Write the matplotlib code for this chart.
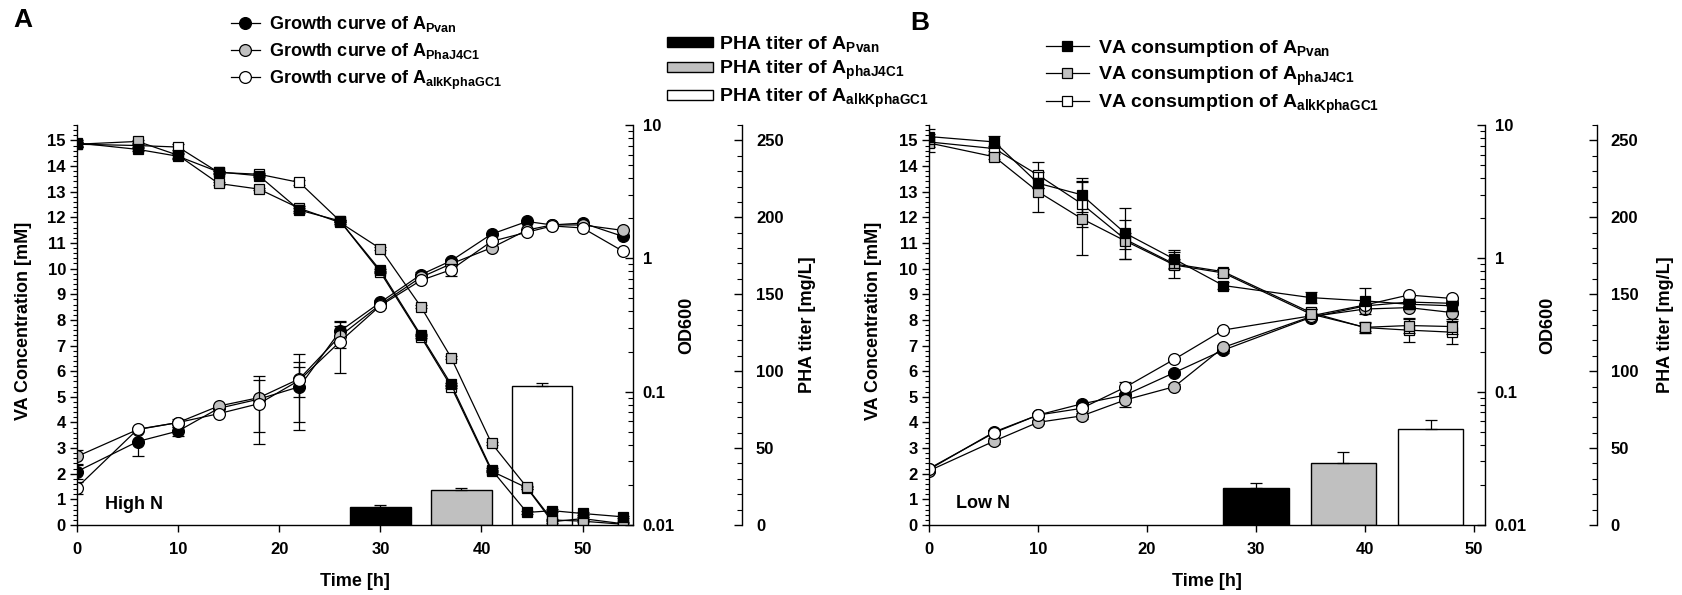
import numpy as np
import matplotlib
matplotlib.use('Agg')
import matplotlib.pyplot as plt
from matplotlib.ticker import MultipleLocator, FixedLocator, LogLocator, NullFormatter, FuncFormatter

plt.rcParams['font.family'] = ['Liberation Sans', 'DejaVu Sans']
plt.rcParams['font.weight'] = 'bold'
plt.rcParams['axes.labelweight'] = 'bold'
plt.rcParams['mathtext.fontset'] = 'custom'
plt.rcParams['mathtext.rm'] = 'Liberation Sans:bold'
plt.rcParams['mathtext.it'] = 'Liberation Sans:bold'
plt.rcParams['mathtext.bf'] = 'Liberation Sans:bold'

# ---- panel A (high N) ----
tA = [0, 6, 10, 14, 18, 22, 26, 30, 34, 37, 41, 44.5, 47, 50, 54]
va_A_pvan = [14.9, 14.65, 14.38, 13.77, 13.62, 12.28, 11.86, 9.93, 7.41, 5.49, 2.16, 0.49, 0.56, 0.45, 0.32]
va_A_phaJ = [14.85, 14.96, 14.42, 13.32, 13.1, 12.35, 11.8, 10.78, 8.52, 6.53, 3.19, 1.47, 0.2, 0.15, 0.03]
va_A_alkK = [14.85, 14.8, 14.74, 13.75, 13.68, 13.36, 11.86, 9.86, 7.35, 5.4, 2.1, 1.45, 0.13, 0.25, 0.05]
od_A_pvan = [0.0252, 0.0423, 0.0507, 0.075, 0.088, 0.109, 0.284, 0.468, 0.754, 0.959, 1.52, 1.89, 1.78, 1.84, 1.46]
od_A_phaJ = [0.0327, 0.052, 0.0587, 0.078, 0.0902, 0.125, 0.261, 0.45, 0.72, 0.91, 1.20, 1.63, 1.78, 1.78, 1.62]
od_A_alkK = [0.0191, 0.0523, 0.0587, 0.0684, 0.0813, 0.122, 0.237, 0.442, 0.683, 0.822, 1.34, 1.57, 1.75, 1.69, 1.13]
od_A_pvan_err = [0.003, 0.0096, 0.004, 0, 0, 0.057, 0.05, 0.02, 0.03, 0.03, 0, 0, 0, 0, 0]
od_A_phaJ_err = [0.004, 0, 0, 0, 0.04, 0.066, 0.05, 0, 0, 0, 0, 0, 0, 0, 0]
od_A_alkK_err = [0.002, 0, 0.004, 0, 0.041, 0.03, 0.1, 0.02, 0, 0.08, 0, 0, 0, 0, 0]
va_A_err = [0.1, 0.05, 0.1, 0.05, 0.05, 0.1, 0.05, 0.05, 0.05, 0.05, 0.05, 0.05, 0.05, 0.05, 0.05]

# ---- panel B (low N) ----
tB = [0, 6, 10, 14, 18, 22.5, 27, 35, 40, 44, 48]
va_B_pvan = [15.15, 14.94, 13.33, 12.88, 11.38, 10.37, 9.34, 8.87, 8.74, 8.61, 8.55]
va_B_phaJ = [14.9, 14.36, 13.0, 11.95, 11.08, 10.14, 9.83, 8.23, 7.71, 7.78, 7.74]
va_B_alkK = [14.94, 14.68, 13.65, 12.53, 11.14, 10.18, 9.88, 8.29, 7.7, 7.6, 7.52]
va_B_pvan_err = [0.3, 0.25, 0.2, 0.67, 1.0, 0.36, 0.15, 0.2, 0.5, 0.2, 0.2]
va_B_phaJ_err = [0.35, 0.1, 0.78, 1.41, 0.3, 0.5, 0.15, 0.2, 0.15, 0.3, 0.3]
va_B_alkK_err = [0.2, 0.1, 0.5, 0.9, 0.77, 0.2, 0.1, 0.15, 0.2, 0.45, 0.45]
od_B_pvan = [0.0261, 0.050, 0.0668, 0.081, 0.0944, 0.139, 0.205, 0.36, 0.44, 0.47, 0.46]
od_B_phaJ = [0.0255, 0.0427, 0.0589, 0.0658, 0.0867, 0.109, 0.215, 0.365, 0.417, 0.427, 0.392]
od_B_alkK = [0.0265, 0.0493, 0.0668, 0.075, 0.108, 0.175, 0.29, 0.37, 0.447, 0.531, 0.50]
od_B_err = [0.001, 0.002, 0.002, 0.003, 0.01, 0.005, 0.01, 0.01, 0.01, 0.01, 0.01]

# ---- PHA titer bars ----
bar_t = [30, 38, 46]
pha_A = [11.5, 22.6, 90.4]
pha_A_err = [1.5, 1.4, 1.8]
pha_B = [23.8, 40.5, 62.1]
pha_B_err = [3.7, 6.7, 6.1]

colors = ['black', '#c0c0c0', 'white']

fig = plt.figure(figsize=(16.82, 5.95), dpi=100)

TICK_FS = 12
LABEL_FS = 13


def style_axes(ax_va, ax_od, ax_pha, xmax, pha_off, lab_x):
    ax_va.set_xlim(0, xmax)
    ax_va.set_ylim(0, 15.6)
    ax_od.set_yscale('log')
    ax_od.set_ylim(0.01, 10)
    ax_pha.set_ylim(0, 260)
    for s in ['top', 'right']:
        ax_va.spines[s].set_visible(False)
    for a in (ax_od, ax_pha):
        for s in ['top', 'left', 'bottom']:
            a.spines[s].set_visible(False)
    ax_pha.spines['right'].set_position(('outward', pha_off))
    for a in (ax_va, ax_od, ax_pha):
        for s in a.spines.values():
            s.set_linewidth(1.0)
    ax_va.xaxis.set_major_locator(MultipleLocator(10))
    ax_va.yaxis.set_major_locator(MultipleLocator(1))
    ax_va.yaxis.set_minor_locator(MultipleLocator(0.2))
    ax_va.tick_params(axis='x', direction='out', length=5, width=1, labelsize=TICK_FS, pad=7)
    ax_va.tick_params(axis='y', which='major', direction='out', length=5, width=1, labelsize=TICK_FS, pad=3)
    ax_va.tick_params(axis='y', which='minor', direction='out', length=3, width=0.8)
    ax_od.yaxis.set_major_locator(FixedLocator([0.01, 0.1, 1, 10]))
    ax_od.yaxis.set_major_formatter(FuncFormatter(lambda v, p: '%g' % v))
    ax_od.yaxis.set_minor_locator(LogLocator(subs=np.arange(2, 10)))
    ax_od.yaxis.set_minor_formatter(NullFormatter())
    ax_od.tick_params(axis='y', which='major', direction='in', length=6, width=1, labelsize=TICK_FS, pad=7)
    ax_od.tick_params(axis='y', which='minor', direction='in', length=3.5, width=0.8)
    ax_pha.yaxis.set_major_locator(MultipleLocator(50))
    ax_pha.yaxis.set_minor_locator(MultipleLocator(10))
    ax_pha.tick_params(axis='y', which='major', direction='in', length=6, width=1, labelsize=TICK_FS, pad=10)
    ax_pha.tick_params(axis='y', which='minor', direction='in', length=3.5, width=0.8)
    ax_va.set_xlabel('Time [h]', fontsize=LABEL_FS)
    ax_va.set_ylabel('VA Concentration [mM]', fontsize=LABEL_FS)
    ax_od.set_ylabel('OD600', fontsize=LABEL_FS)
    ax_pha.set_ylabel('PHA titer [mg/L]', fontsize=LABEL_FS)
    ax_va.xaxis.label.set_verticalalignment('center')
    for a in (ax_va, ax_od, ax_pha):
        a.yaxis.label.set_verticalalignment('center')
    ax_va.xaxis.set_label_coords(0.5, -0.14)
    ax_va.yaxis.set_label_coords(lab_x[0], 0.51)
    ax_od.yaxis.set_label_coords(lab_x[1], 0.5)
    ax_pha.yaxis.set_label_coords(lab_x[2], 0.5)


def make_axes(left, xmax, pha_off, lab_x):
    ax_va = fig.add_axes([left, 0.1176, 0.3306, 0.6723])
    ax_od = ax_va.twinx()
    ax_pha = ax_va.twinx()
    ax_pha.set_zorder(0)
    ax_od.set_zorder(1)
    ax_va.set_zorder(2)
    for a in (ax_va, ax_od, ax_pha):
        a.patch.set_visible(False)
    style_axes(ax_va, ax_od, ax_pha, xmax, pha_off, lab_x)
    return ax_va, ax_od, ax_pha


lkw = dict(color='black', lw=0.9, markeredgecolor='black', markeredgewidth=0.9)
ekw = dict(fmt='none', ecolor='black', elinewidth=0.9, capsize=4, capthick=0.9)

# ================= Panel A =================
axA, odA, phaA = make_axes(0.0458, 55, 78.5, (-0.097, 1.097, 1.313))

bars_A = []
for i in range(3):
    b = phaA.bar(bar_t[i], pha_A[i], width=6, color=colors[i], edgecolor='black', linewidth=1.0)
    phaA.errorbar(bar_t[i], pha_A[i], yerr=[[0], [pha_A_err[i]]], **ekw)
    bars_A.append(b)

od_A = [od_A_pvan, od_A_phaJ, od_A_alkK]
od_A_err = [od_A_pvan_err, od_A_phaJ_err, od_A_alkK_err]
growth_A = [None, None, None]
for i in range(3):
    odA.errorbar(tA, od_A[i], yerr=od_A_err[i], **ekw)
    growth_A[i], = odA.plot(tA, od_A[i], marker='o', ms=8.5, markerfacecolor=colors[i], **lkw)

va_A = [va_A_pvan, va_A_phaJ, va_A_alkK]
for i in [2, 1, 0]:
    axA.errorbar(tA, va_A[i], yerr=va_A_err, **ekw)
    axA.plot(tA, va_A[i], marker='s', ms=7.5, markerfacecolor=colors[i], **lkw)

axA.text(2.8, 0.82, 'High N', fontsize=13, va='center', ha='left')

fig.legend(growth_A,
           ['Growth curve of A$_\\mathrm{Pvan}$', 'Growth curve of A$_\\mathrm{PhaJ4C1}$',
            'Growth curve of A$_\\mathrm{alkKphaGC1}$'],
           loc='upper left', bbox_to_anchor=(231 / 1682, 1 - 14 / 595), frameon=False,
           fontsize=13, handlelength=1.6, handletextpad=0.48, labelspacing=0.4,
           borderpad=0, borderaxespad=0)
fig.legend([b[0] for b in bars_A],
           ['PHA titer of A$_\\mathrm{Pvan}$', 'PHA titer of A$_\\mathrm{phaJ4C1}$',
            'PHA titer of A$_\\mathrm{alkKphaGC1}$'],
           loc='upper left', bbox_to_anchor=(667 / 1682, 1 - 34 / 595), frameon=False,
           fontsize=14, handlelength=2.35, handleheight=0.42, handletextpad=0.3,
           labelspacing=0.25, borderpad=0, borderaxespad=0)

# ================= Panel B =================
axB, odB, phaB = make_axes(0.5523, 51, 80.6, (-0.099, 1.113, 1.324))

for i in range(3):
    phaB.bar(bar_t[i], pha_B[i], width=6, color=colors[i], edgecolor='black', linewidth=1.0)
    phaB.errorbar(bar_t[i], pha_B[i], yerr=[[0], [pha_B_err[i]]], **ekw)

od_B = [od_B_pvan, od_B_phaJ, od_B_alkK]
for i in range(3):
    odB.errorbar(tB, od_B[i], yerr=od_B_err, **ekw)
    odB.plot(tB, od_B[i], marker='o', ms=8.5, markerfacecolor=colors[i], **lkw)

va_B = [va_B_pvan, va_B_phaJ, va_B_alkK]
va_B_err = [va_B_pvan_err, va_B_phaJ_err, va_B_alkK_err]
va_lines_B = [None, None, None]
for i in [2, 1, 0]:
    axB.errorbar(tB, va_B[i], yerr=va_B_err[i], **ekw)
    va_lines_B[i], = axB.plot(tB, va_B[i], marker='s', ms=7.5, markerfacecolor=colors[i], **lkw)

axB.text(2.5, 0.85, 'Low N', fontsize=13, va='center', ha='left')

fig.legend(va_lines_B,
           ['VA consumption of A$_\\mathrm{Pvan}$', 'VA consumption of A$_\\mathrm{phaJ4C1}$',
            'VA consumption of A$_\\mathrm{alkKphaGC1}$'],
           loc='upper left', bbox_to_anchor=(1046 / 1682, 1 - 38 / 595), frameon=False,
           fontsize=14, handlelength=2.2, handletextpad=0.5, labelspacing=0.28,
           borderpad=0, borderaxespad=0)

fig.text(13 / 1682, 1 - 8 / 595, 'A', fontsize=19, fontweight='bold', va='top', ha='left')
fig.text(910 / 1682, 1 - 11 / 595, 'B', fontsize=19, fontweight='bold', va='top', ha='left')

fig.savefig('out.png', dpi=100)
